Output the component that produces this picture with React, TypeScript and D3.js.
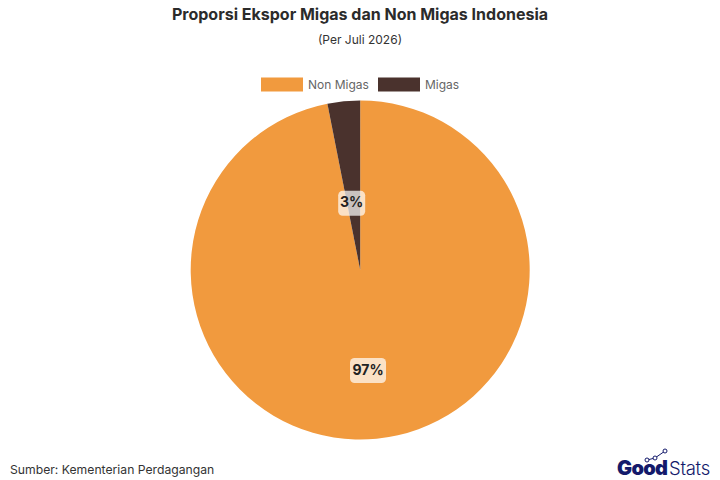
import React from 'react';
import * as d3 from 'd3';

const categories = ['Non Migas', 'Migas'];
const shares = [96.9, 3.1]; // drawn value, labels show it rounded
const colors = ['#f19a3e', '#4a322d'];
const labelRadii = [101, 67]; // labels do not sit at the same distance in each slice

const width = 720;
const height = 480;
const radius = 169.5;
const font = 'Inter, "Open Sans", sans-serif';

const App: React.FC = () => {
  // start at the top, going clockwise from the big slice
  const pie = d3.pie<number>().sort(null)(shares);
  const arc = d3.arc<d3.PieArcDatum<number>>().innerRadius(0).outerRadius(radius);

  return (
    <svg
      width={width}
      height={height}
      style={{ position: 'absolute', left: 0, top: 0, background: '#fff' }}
      fontFamily={font}
    >
      <text x={360} y={19.5} textAnchor="middle" fontSize={16} fontWeight={700} fill="#2b2b2b">
        Proporsi Ekspor Migas dan Non Migas Indonesia
      </text>
      <text x={360} y={44} textAnchor="middle" fontSize={12} fill="#333">
        (Per Juli 2026)
      </text>

      {/* legend */}
      <g fontSize={12} fill="#666">
        <rect x={261} y={77.5} width={42} height={14} fill={colors[0]} />
        <text x={308} y={88.5}>{categories[0]}</text>
        <rect x={378} y={77.5} width={42} height={14} fill={colors[1]} />
        <text x={425} y={88.5}>{categories[1]}</text>
      </g>

      <g transform="translate(360.2,270)">
        {pie.map((d, i) => (
          <path key={categories[i]} d={arc(d) ?? ''} fill={colors[i]} />
        ))}
        {pie.map((d, i) => {
          const [x, y] = d3.arc<d3.PieArcDatum<number>>()
            .innerRadius(labelRadii[i])
            .outerRadius(labelRadii[i])
            .centroid(d);
          const w = i === 0 ? 36 : 27;
          return (
            <g key={categories[i]} transform={`translate(${x - 2},${y})`}>
              <rect x={-w / 2} y={-12.5} width={w} height={25} rx={4.5} fill="#fff" fillOpacity={0.7} />
              <text textAnchor="middle" y={4} fontSize={14} fontWeight={700} fill="#222">
                {Math.round(shares[i])}%
              </text>
            </g>
          );
        })}
      </g>

      <text x={10} y={474} fontSize={12.2} fill="#333">
        Sumber: Kementerian Perdagangan
      </text>

      {/* logo */}
      <g>
        <polyline points="647,460 655,458 665,451" fill="none" stroke="#141a6b" strokeWidth={1} />
        {[[647, 460], [655, 458], [665, 451]].map(([x, y]) => (
          <circle key={x} cx={x} cy={y} r={2} fill="#fff" stroke="#141a6b" strokeWidth={1} />
        ))}
        <text x={617} y={475} fontSize={20} fontWeight={900} fill="#141a6b" letterSpacing={-0.7}>
          Good
        </text>
        <text x={669} y={475} fontSize={18.5} fontWeight={300} fill="#141a6b" letterSpacing={-0.3}>
          Stats
        </text>
      </g>
    </svg>
  );
};

export default App;
